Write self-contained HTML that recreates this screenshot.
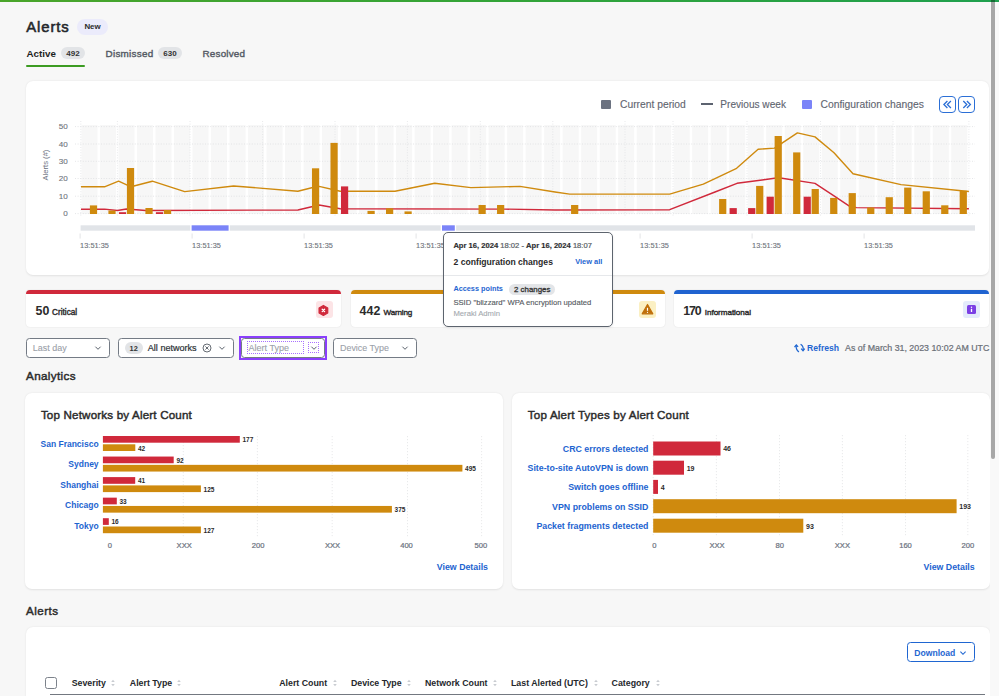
<!DOCTYPE html>
<html><head><meta charset="utf-8"><style>
html,body{margin:0;padding:0;}
body{width:999px;height:696px;overflow:hidden;position:relative;background:#f7f7f7;font-family:"Liberation Sans", sans-serif;}
.t{position:absolute;white-space:nowrap;line-height:1;}
</style></head><body>
<div style="position:absolute;left:0.00px;top:0.00px;width:999.00px;height:2.00px;background:linear-gradient(90deg,#4aa52a,#33a438 50%,#1fa04e)"></div>
<div class="t" style="left:26.20px;top:19.79px;font-size:14.9px;font-weight:400;color:#24272b;-webkit-text-stroke:0.55px #24272b;letter-spacing:0.904px;">Alerts</div>
<div style="position:absolute;left:77.00px;top:19.00px;width:31.00px;height:15.50px;background:#ebebfb;border-radius:8px"></div>
<div class="t" style="left:-7.50px;width:200px;text-align:center;top:22.70px;font-size:7.9px;font-weight:700;color:#2a2a2a;">New</div>
<div class="t" style="left:26.50px;top:49.29px;font-size:9.8px;font-weight:700;color:#1d1f22;">Active</div>
<div style="position:absolute;left:61.00px;top:47.00px;width:24.00px;height:12.00px;background:#e2e4e7;border-radius:6px"></div>
<div class="t" style="left:-27.00px;width:200px;text-align:center;top:49.76px;font-size:8.0px;font-weight:700;color:#333;">492</div>
<div class="t" style="left:105.50px;top:49.34px;font-size:9.9px;font-weight:400;color:#555b65;-webkit-text-stroke:0.4px #555b65;letter-spacing:0.282px;">Dismissed</div>
<div style="position:absolute;left:158.00px;top:47.00px;width:24.00px;height:12.00px;background:#e2e4e7;border-radius:6px"></div>
<div class="t" style="left:70.00px;width:200px;text-align:center;top:49.76px;font-size:8.0px;font-weight:700;color:#333;">630</div>
<div class="t" style="left:202.50px;top:49.34px;font-size:9.9px;font-weight:400;color:#555b65;-webkit-text-stroke:0.4px #555b65;letter-spacing:0.190px;">Resolved</div>
<div style="position:absolute;left:25.60px;top:64.80px;width:59.60px;height:2.00px;background:#3c9b22;border-radius:1px"></div>
<div style="position:absolute;left:26.00px;top:81.00px;width:962.50px;height:194.00px;background:#fff;border-radius:7px;box-shadow:0 0.5px 2px rgba(0,0,0,0.09)"></div>
<div style="position:absolute;left:601.00px;top:100.00px;width:10.00px;height:9.00px;background:#6b7280;border-radius:1px"></div>
<div class="t" style="left:620.00px;top:99.87px;font-size:10.3px;font-weight:400;color:#5f6570;-webkit-text-stroke:0.12px #5f6570;">Current period</div>
<div style="position:absolute;left:701.00px;top:103.30px;width:11.60px;height:1.50px;background:#5c6370"></div>
<div class="t" style="left:720.30px;top:99.96px;font-size:10.1px;font-weight:400;color:#5f6570;-webkit-text-stroke:0.12px #5f6570;">Previous week</div>
<div style="position:absolute;left:802.00px;top:99.70px;width:10.00px;height:9.50px;background:#7b84f8;border-radius:1px"></div>
<div class="t" style="left:820.50px;top:99.85px;font-size:10.34px;font-weight:400;color:#5f6570;-webkit-text-stroke:0.12px #5f6570;">Configuration changes</div>
<div style="position:absolute;left:939.20px;top:95.80px;width:16.60px;height:16.80px;border:1.6px solid #2b6fd6;border-radius:4px;box-sizing:border-box"></div>
<svg style="position:absolute;left:939px;top:95.6px" width="17" height="17"><path d="M8.4 5 L4.9 8.5 L8.4 12 M11.9 5 L8.4 8.5 L11.9 12" fill="none" stroke="#2b6fd6" stroke-width="1.3"/></svg>
<div style="position:absolute;left:958.20px;top:95.80px;width:16.60px;height:16.80px;border:1.6px solid #2b6fd6;border-radius:4px;box-sizing:border-box"></div>
<svg style="position:absolute;left:958px;top:95.6px" width="17" height="17"><path d="M5.3 5 L8.8 8.5 L5.3 12 M8.9 5 L12.4 8.5 L8.9 12" fill="none" stroke="#2b6fd6" stroke-width="1.3"/></svg>
<svg style="position:absolute;left:0;top:0" width="999" height="696"><rect x="81.50" y="125" width="16.01" height="89" fill="#f7f7f7"/><rect x="100.01" y="125" width="16.01" height="89" fill="#f7f7f7"/><rect x="118.51" y="125" width="16.01" height="89" fill="#f7f7f7"/><rect x="137.02" y="125" width="16.01" height="89" fill="#f7f7f7"/><rect x="155.52" y="125" width="16.01" height="89" fill="#f7f7f7"/><rect x="174.03" y="125" width="16.01" height="89" fill="#f7f7f7"/><rect x="192.54" y="125" width="16.01" height="89" fill="#f7f7f7"/><rect x="211.04" y="125" width="16.01" height="89" fill="#f7f7f7"/><rect x="229.55" y="125" width="16.01" height="89" fill="#f7f7f7"/><rect x="248.05" y="125" width="16.01" height="89" fill="#f7f7f7"/><rect x="266.56" y="125" width="16.01" height="89" fill="#f7f7f7"/><rect x="285.07" y="125" width="16.01" height="89" fill="#f7f7f7"/><rect x="303.57" y="125" width="16.01" height="89" fill="#f7f7f7"/><rect x="322.08" y="125" width="16.01" height="89" fill="#f7f7f7"/><rect x="340.58" y="125" width="16.01" height="89" fill="#f7f7f7"/><rect x="359.09" y="125" width="16.01" height="89" fill="#f7f7f7"/><rect x="377.60" y="125" width="16.01" height="89" fill="#f7f7f7"/><rect x="396.10" y="125" width="16.01" height="89" fill="#f7f7f7"/><rect x="414.61" y="125" width="16.01" height="89" fill="#f7f7f7"/><rect x="433.11" y="125" width="16.01" height="89" fill="#f7f7f7"/><rect x="451.62" y="125" width="16.01" height="89" fill="#f7f7f7"/><rect x="470.13" y="125" width="16.01" height="89" fill="#f7f7f7"/><rect x="488.63" y="125" width="16.01" height="89" fill="#f7f7f7"/><rect x="507.14" y="125" width="16.01" height="89" fill="#f7f7f7"/><rect x="525.64" y="125" width="16.01" height="89" fill="#f7f7f7"/><rect x="544.15" y="125" width="16.01" height="89" fill="#f7f7f7"/><rect x="562.66" y="125" width="16.01" height="89" fill="#f7f7f7"/><rect x="581.16" y="125" width="16.01" height="89" fill="#f7f7f7"/><rect x="599.67" y="125" width="16.01" height="89" fill="#f7f7f7"/><rect x="618.17" y="125" width="16.01" height="89" fill="#f7f7f7"/><rect x="636.68" y="125" width="16.01" height="89" fill="#f7f7f7"/><rect x="655.19" y="125" width="16.01" height="89" fill="#f7f7f7"/><rect x="673.69" y="125" width="16.01" height="89" fill="#f7f7f7"/><rect x="692.20" y="125" width="16.01" height="89" fill="#f7f7f7"/><rect x="710.70" y="125" width="16.01" height="89" fill="#f7f7f7"/><rect x="729.21" y="125" width="16.01" height="89" fill="#f7f7f7"/><rect x="747.72" y="125" width="16.01" height="89" fill="#f7f7f7"/><rect x="766.22" y="125" width="16.01" height="89" fill="#f7f7f7"/><rect x="784.73" y="125" width="16.01" height="89" fill="#f7f7f7"/><rect x="803.23" y="125" width="16.01" height="89" fill="#f7f7f7"/><rect x="821.74" y="125" width="16.01" height="89" fill="#f7f7f7"/><rect x="840.25" y="125" width="16.01" height="89" fill="#f7f7f7"/><rect x="858.75" y="125" width="16.01" height="89" fill="#f7f7f7"/><rect x="877.26" y="125" width="16.01" height="89" fill="#f7f7f7"/><rect x="895.76" y="125" width="16.01" height="89" fill="#f7f7f7"/><rect x="914.27" y="125" width="16.01" height="89" fill="#f7f7f7"/><rect x="932.78" y="125" width="16.01" height="89" fill="#f7f7f7"/><rect x="951.28" y="125" width="16.01" height="89" fill="#f7f7f7"/><line x1="75" y1="126.6" x2="975" y2="126.6" stroke="#dcdde0" stroke-width="0.75" stroke-dasharray="1 1.6"/><line x1="75" y1="144.0" x2="975" y2="144.0" stroke="#dcdde0" stroke-width="0.75" stroke-dasharray="1 1.6"/><line x1="75" y1="161.3" x2="975" y2="161.3" stroke="#dcdde0" stroke-width="0.75" stroke-dasharray="1 1.6"/><line x1="75" y1="178.5" x2="975" y2="178.5" stroke="#dcdde0" stroke-width="0.75" stroke-dasharray="1 1.6"/><line x1="75" y1="196.2" x2="975" y2="196.2" stroke="#dcdde0" stroke-width="0.75" stroke-dasharray="1 1.6"/><line x1="75" y1="213.6" x2="975" y2="213.6" stroke="#dcdde0" stroke-width="0.75" stroke-dasharray="1 1.6"/><line x1="80.8" y1="121" x2="80.8" y2="217" stroke="#e0e1e4" stroke-width="0.75" stroke-dasharray="1 1.6"/><line x1="117.4" y1="121" x2="117.4" y2="217" stroke="#e0e1e4" stroke-width="0.75" stroke-dasharray="1 1.6"/><line x1="190" y1="121" x2="190" y2="217" stroke="#e0e1e4" stroke-width="0.75" stroke-dasharray="1 1.6"/><line x1="262.6" y1="121" x2="262.6" y2="217" stroke="#e0e1e4" stroke-width="0.75" stroke-dasharray="1 1.6"/><line x1="335" y1="121" x2="335" y2="217" stroke="#e0e1e4" stroke-width="0.75" stroke-dasharray="1 1.6"/><line x1="407.4" y1="121" x2="407.4" y2="217" stroke="#e0e1e4" stroke-width="0.75" stroke-dasharray="1 1.6"/><line x1="480.3" y1="121" x2="480.3" y2="217" stroke="#e0e1e4" stroke-width="0.75" stroke-dasharray="1 1.6"/><line x1="552.8" y1="121" x2="552.8" y2="217" stroke="#e0e1e4" stroke-width="0.75" stroke-dasharray="1 1.6"/><line x1="625" y1="121" x2="625" y2="217" stroke="#e0e1e4" stroke-width="0.75" stroke-dasharray="1 1.6"/><line x1="673" y1="121" x2="673" y2="217" stroke="#e0e1e4" stroke-width="0.75" stroke-dasharray="1 1.6"/><line x1="747" y1="121" x2="747" y2="217" stroke="#e0e1e4" stroke-width="0.75" stroke-dasharray="1 1.6"/><line x1="820.5" y1="121" x2="820.5" y2="217" stroke="#e0e1e4" stroke-width="0.75" stroke-dasharray="1 1.6"/><line x1="893" y1="121" x2="893" y2="217" stroke="#e0e1e4" stroke-width="0.75" stroke-dasharray="1 1.6"/><line x1="968.9" y1="121" x2="968.9" y2="217" stroke="#e0e1e4" stroke-width="0.75" stroke-dasharray="1 1.6"/><polyline points="81.0,186.8 104.5,186.8 118.6,181.2 131.0,186.8 152.3,181.2 184.7,191.6 233.6,186.0 297.9,191.2 311.7,187.8 319.1,186.4 340.2,191.2 395.0,191.2 434.7,183.3 470.9,187.6 520.0,186.4 555.0,192.0 569.7,194.1 669.7,194.1 703.3,184.1 715.0,178.6 736.6,168.3 758.1,149.3 774.5,148.1 797.4,132.9 815.0,136.9 834.0,152.8 853.0,173.8 901.0,184.6 968.9,191.5" fill="none" stroke="#cf8a0e" stroke-width="1.4" stroke-linejoin="round"/><polyline points="81.0,209.2 104.5,209.1 117.4,210.5 126.5,209.0 145.7,210.5 297.9,210.0 319.1,205.0 340.2,208.8 505.0,209.1 555.0,210.0 669.7,209.7 715.0,192.0 737.0,183.3 774.5,178.3 782.0,178.3 815.0,183.4 834.0,195.9 848.6,205.7 856.4,207.6 968.9,208.7" fill="none" stroke="#d0293b" stroke-width="1.4" stroke-linejoin="round"/><rect x="89.90" y="205.4" width="7.2" height="8.6" fill="#cf8a0e"/><rect x="108.41" y="210.5" width="7.2" height="3.5" fill="#cf8a0e"/><rect x="126.91" y="168.0" width="7.2" height="46.0" fill="#cf8a0e"/><rect x="145.42" y="208.0" width="7.2" height="6.0" fill="#cf8a0e"/><rect x="163.92" y="210.0" width="7.2" height="4.0" fill="#cf8a0e"/><rect x="311.97" y="168.3" width="7.2" height="45.7" fill="#cf8a0e"/><rect x="330.48" y="142.9" width="7.2" height="71.1" fill="#cf8a0e"/><rect x="367.49" y="210.9" width="7.2" height="3.1" fill="#cf8a0e"/><rect x="386.00" y="208.3" width="7.2" height="5.7" fill="#cf8a0e"/><rect x="404.50" y="211.4" width="7.2" height="2.6" fill="#cf8a0e"/><rect x="478.53" y="205.0" width="7.2" height="9.0" fill="#cf8a0e"/><rect x="497.03" y="205.0" width="7.2" height="9.0" fill="#cf8a0e"/><rect x="571.06" y="205.0" width="7.2" height="9.0" fill="#cf8a0e"/><rect x="719.10" y="199.0" width="7.2" height="15.0" fill="#cf8a0e"/><rect x="756.12" y="185.9" width="7.2" height="28.1" fill="#cf8a0e"/><rect x="774.62" y="136.0" width="7.2" height="78.0" fill="#cf8a0e"/><rect x="793.13" y="152.4" width="7.2" height="61.6" fill="#cf8a0e"/><rect x="811.63" y="189.0" width="7.2" height="25.0" fill="#cf8a0e"/><rect x="830.14" y="197.9" width="7.2" height="16.1" fill="#cf8a0e"/><rect x="848.65" y="193.1" width="7.2" height="20.9" fill="#cf8a0e"/><rect x="867.15" y="207.5" width="7.2" height="6.5" fill="#cf8a0e"/><rect x="885.66" y="197.2" width="7.2" height="16.8" fill="#cf8a0e"/><rect x="904.16" y="187.6" width="7.2" height="26.4" fill="#cf8a0e"/><rect x="922.67" y="191.3" width="7.2" height="22.7" fill="#cf8a0e"/><rect x="941.18" y="205.3" width="7.2" height="8.7" fill="#cf8a0e"/><rect x="959.68" y="190.8" width="7.2" height="23.2" fill="#cf8a0e"/><rect x="118.91" y="212.2" width="7.2" height="1.8" fill="#d0293b"/><rect x="155.92" y="212.2" width="7.2" height="1.8" fill="#d0293b"/><rect x="340.98" y="186.4" width="7.2" height="27.6" fill="#d0293b"/><rect x="729.61" y="208.1" width="7.2" height="5.9" fill="#d0293b"/><rect x="748.12" y="208.1" width="7.2" height="5.9" fill="#d0293b"/><rect x="766.62" y="196.7" width="7.2" height="17.3" fill="#d0293b"/><rect x="803.63" y="196.7" width="7.2" height="17.3" fill="#d0293b"/><rect x="80.6" y="225.3" width="894.4" height="5.4" fill="#e1e4e8"/><rect x="190.3" y="224.8" width="39.5" height="6.4" fill="#fff"/><rect x="191.6" y="225.3" width="37" height="5.4" fill="#7b84f8"/><rect x="440.7" y="224.8" width="15.4" height="6.4" fill="#fff"/><rect x="442" y="225.3" width="12.8" height="5.4" fill="#7b84f8"/><line x1="80.1" y1="233.5" x2="80.1" y2="238.5" stroke="#dcdde0" stroke-width="0.8"/><line x1="192.1" y1="233.5" x2="192.1" y2="238.5" stroke="#dcdde0" stroke-width="0.8"/><line x1="304.1" y1="233.5" x2="304.1" y2="238.5" stroke="#dcdde0" stroke-width="0.8"/><line x1="416.1" y1="233.5" x2="416.1" y2="238.5" stroke="#dcdde0" stroke-width="0.8"/><line x1="528.1" y1="233.5" x2="528.1" y2="238.5" stroke="#dcdde0" stroke-width="0.8"/><line x1="640.1" y1="233.5" x2="640.1" y2="238.5" stroke="#dcdde0" stroke-width="0.8"/><line x1="752.1" y1="233.5" x2="752.1" y2="238.5" stroke="#dcdde0" stroke-width="0.8"/><line x1="864.1" y1="233.5" x2="864.1" y2="238.5" stroke="#dcdde0" stroke-width="0.8"/></svg>
<div class="t" style="right:931.30px;top:123.12px;font-size:8.1px;font-weight:400;color:#6e737b;-webkit-text-stroke:0.1px #6e737b;">50</div>
<div class="t" style="right:931.30px;top:140.52px;font-size:8.1px;font-weight:400;color:#6e737b;-webkit-text-stroke:0.1px #6e737b;">40</div>
<div class="t" style="right:931.30px;top:157.82px;font-size:8.1px;font-weight:400;color:#6e737b;-webkit-text-stroke:0.1px #6e737b;">30</div>
<div class="t" style="right:931.30px;top:175.02px;font-size:8.1px;font-weight:400;color:#6e737b;-webkit-text-stroke:0.1px #6e737b;">20</div>
<div class="t" style="right:931.30px;top:192.72px;font-size:8.1px;font-weight:400;color:#6e737b;-webkit-text-stroke:0.1px #6e737b;">10</div>
<div class="t" style="right:931.30px;top:210.12px;font-size:8.1px;font-weight:400;color:#6e737b;-webkit-text-stroke:0.1px #6e737b;">0</div>
<div class="t" style="left:15.5px;top:161.3px;width:60px;text-align:center;font-size:7.6px;line-height:8px;color:#6b7280;transform:rotate(-90deg)">Alerts (#)</div>
<div class="t" style="left:80.10px;top:242.13px;font-size:7.37px;font-weight:400;color:#6e737b;-webkit-text-stroke:0.12px #6e737b;letter-spacing:0.021px;">13:51:35</div>
<div class="t" style="left:192.10px;top:242.13px;font-size:7.37px;font-weight:400;color:#6e737b;-webkit-text-stroke:0.12px #6e737b;letter-spacing:0.021px;">13:51:35</div>
<div class="t" style="left:304.10px;top:242.13px;font-size:7.37px;font-weight:400;color:#6e737b;-webkit-text-stroke:0.12px #6e737b;letter-spacing:0.021px;">13:51:35</div>
<div class="t" style="left:416.10px;top:242.13px;font-size:7.37px;font-weight:400;color:#6e737b;-webkit-text-stroke:0.12px #6e737b;letter-spacing:0.021px;">13:51:35</div>
<div class="t" style="left:528.10px;top:242.13px;font-size:7.37px;font-weight:400;color:#6e737b;-webkit-text-stroke:0.12px #6e737b;letter-spacing:0.021px;">13:51:35</div>
<div class="t" style="left:640.10px;top:242.13px;font-size:7.37px;font-weight:400;color:#6e737b;-webkit-text-stroke:0.12px #6e737b;letter-spacing:0.021px;">13:51:35</div>
<div class="t" style="left:752.10px;top:242.13px;font-size:7.37px;font-weight:400;color:#6e737b;-webkit-text-stroke:0.12px #6e737b;letter-spacing:0.021px;">13:51:35</div>
<div class="t" style="left:864.10px;top:242.13px;font-size:7.37px;font-weight:400;color:#6e737b;-webkit-text-stroke:0.12px #6e737b;letter-spacing:0.021px;">13:51:35</div>
<div style="position:absolute;left:26.40px;top:290.40px;width:314.50px;height:36.90px;background:#fff;border-radius:4px;box-shadow:0 0 1.5px rgba(0,0,0,0.12);overflow:hidden"></div>
<div style="position:absolute;left:26.40px;top:290.40px;width:314.50px;height:3.60px;background:#d0293b;border-radius:4px 4px 0 0"></div>
<div class="t" style="left:35.50px;top:304.77px;font-size:12.4px;font-weight:700;color:#2b2b2b;letter-spacing:0.003px;">50</div>
<div style="position:absolute;left:315.50px;top:301.30px;width:17.00px;height:16.80px;background:#fce4e6;border-radius:3px"></div>
<div style="position:absolute;left:350.50px;top:290.40px;width:314.50px;height:36.90px;background:#fff;border-radius:4px;box-shadow:0 0 1.5px rgba(0,0,0,0.12);overflow:hidden"></div>
<div style="position:absolute;left:350.50px;top:290.40px;width:314.50px;height:3.60px;background:#cf8a0e;border-radius:4px 4px 0 0"></div>
<div class="t" style="left:359.60px;top:304.77px;font-size:12.4px;font-weight:700;color:#2b2b2b;letter-spacing:0.056px;">442</div>
<div style="position:absolute;left:639.30px;top:301.30px;width:17.00px;height:16.80px;background:#fbf0c3;border-radius:3px"></div>
<div style="position:absolute;left:674.10px;top:290.40px;width:314.90px;height:36.90px;background:#fff;border-radius:4px;box-shadow:0 0 1.5px rgba(0,0,0,0.12);overflow:hidden"></div>
<div style="position:absolute;left:674.10px;top:290.40px;width:314.90px;height:3.60px;background:#1f63d0;border-radius:4px 4px 0 0"></div>
<div class="t" style="left:683.20px;top:304.77px;font-size:12.4px;font-weight:700;color:#2b2b2b;letter-spacing:-1.144px;">170</div>
<div style="position:absolute;left:963.30px;top:301.30px;width:17.00px;height:16.80px;background:#e4ebfb;border-radius:3px"></div>
<div class="t" style="left:52.00px;top:308.67px;font-size:8.2px;font-weight:400;color:#2b2b2b;-webkit-text-stroke:0.4px #2b2b2b;letter-spacing:0.024px;">Critical</div>
<div class="t" style="left:383.50px;top:308.72px;font-size:8.1px;font-weight:400;color:#2b2b2b;-webkit-text-stroke:0.4px #2b2b2b;letter-spacing:-0.174px;">Warning</div>
<div class="t" style="left:704.80px;top:308.72px;font-size:8.1px;font-weight:400;color:#2b2b2b;-webkit-text-stroke:0.4px #2b2b2b;letter-spacing:-0.050px;">Informational</div>
<svg style="position:absolute;left:315.1px;top:301.7px" width="17" height="17"><polygon points="8.40,3.40 12.73,5.90 12.73,10.90 8.40,13.40 4.07,10.90 4.07,5.90" fill="#d0293b" stroke="#d0293b" stroke-width="1.2" stroke-linejoin="round"/><path d="M7.2 7.2 L9.6 9.6 M9.6 7.2 L7.2 9.6" stroke="#fff" stroke-width="1.3" stroke-linecap="round"/></svg>
<svg style="position:absolute;left:639.3px;top:301.3px" width="17" height="17"><polygon points="8.5,3.5 13.8,12.8 3.2,12.8" fill="#c0700a" stroke="#c0700a" stroke-width="1.2" stroke-linejoin="round"/><path d="M8.5 6.8 V9.8" stroke="#fff" stroke-width="1.2"/><circle cx="8.5" cy="11.3" r="0.65" fill="#fff"/></svg>
<svg style="position:absolute;left:963.3px;top:301.3px" width="17" height="17"><rect x="4" y="4" width="9" height="9" rx="1.5" fill="#7b3fe4"/><path d="M8.5 7.8 V11" stroke="#fff" stroke-width="1.3"/><circle cx="8.5" cy="6.3" r="0.7" fill="#fff"/></svg>
<div style="position:absolute;left:442.60px;top:232.20px;width:170.60px;height:95.10px;background:#fff;border:1.5px solid #5d646e;border-radius:5px;box-sizing:border-box;box-shadow:0 1px 3px rgba(0,0,0,0.08)"></div>
<div style="position:absolute;left:444.00px;top:275.00px;width:168.00px;height:0.80px;background:#e6e8eb"></div>
<div class="t" style="left:453.40px;top:242.03px;font-size:7.6px;font-weight:400;color:#5a5f66;-webkit-text-stroke:0.22px #5a5f66;"><b style="color:#222">Apr 16, 2024</b> <span>18:02</span> - <b style="color:#222">Apr 16, 2024</b> 18:07</div>
<div class="t" style="left:453.60px;top:258.30px;font-size:8.6px;font-weight:700;color:#2a2a2a;">2 configuration changes</div>
<div class="t" style="left:575.20px;top:258.10px;font-size:7.45px;font-weight:700;color:#1f66d1;">View all</div>
<div class="t" style="left:453.40px;top:284.66px;font-size:7.3px;font-weight:700;color:#1f66d1;">Access points</div>
<div style="position:absolute;left:509.20px;top:283.60px;width:46.00px;height:11.40px;background:#e3e5e8;border-radius:6px"></div>
<div class="t" style="left:432.20px;width:200px;text-align:center;top:285.50px;font-size:7.9px;font-weight:400;color:#333;-webkit-text-stroke:0.3px #333;">2 changes</div>
<div class="t" style="left:453.40px;top:299.30px;font-size:7.68px;font-weight:400;color:#555a61;-webkit-text-stroke:0.12px #555a61;">SSID "blizzard" WPA encryption updated</div>
<div class="t" style="left:453.40px;top:310.49px;font-size:7.69px;font-weight:400;color:#a3a8ae;-webkit-text-stroke:0.1px #a3a8ae;">Meraki Admin</div>
<div style="position:absolute;left:25.50px;top:338.00px;width:84.40px;height:20.00px;border:1.5px solid #747b85;border-radius:3.5px;box-sizing:border-box;background:#fff"></div>
<div class="t" style="left:32.80px;top:344.14px;font-size:8.97px;font-weight:400;color:#9ba1a9;-webkit-text-stroke:0.1px #9ba1a9;">Last day</div>
<svg style="position:absolute;left:93.2px;top:343px" width="10" height="10"><path d="M2.4 3.7 L5 6.3 L7.6 3.7" fill="none" stroke="#5a616b" stroke-width="1.0"/></svg>
<div style="position:absolute;left:117.60px;top:338.00px;width:116.10px;height:20.00px;border:1.5px solid #747b85;border-radius:3.5px;box-sizing:border-box;background:#fff"></div>
<div style="position:absolute;left:124.60px;top:342.30px;width:18.10px;height:11.40px;background:#e2e4e7;border-radius:6px"></div>
<div class="t" style="left:33.65px;width:200px;text-align:center;top:344.82px;font-size:7.4px;font-weight:700;color:#333;">12</div>
<div class="t" style="left:147.80px;top:344.10px;font-size:9.07px;font-weight:400;color:#2f3338;-webkit-text-stroke:0.22px #2f3338;">All networks</div>
<svg style="position:absolute;left:201.8px;top:343px" width="10" height="10"><circle cx="5" cy="5" r="4" fill="none" stroke="#555b63" stroke-width="0.9"/><path d="M3.4 3.4 L6.6 6.6 M6.6 3.4 L3.4 6.6" stroke="#555b63" stroke-width="0.9"/></svg>
<svg style="position:absolute;left:216.5px;top:343px" width="10" height="10"><path d="M2.4 3.7 L5 6.3 L7.6 3.7" fill="none" stroke="#5a616b" stroke-width="1.0"/></svg>
<div style="position:absolute;left:239.00px;top:336.00px;width:88.40px;height:24.00px;border:2px solid #8a3ffc;box-sizing:border-box"></div>
<div style="position:absolute;left:241.00px;top:338.00px;width:84.40px;height:20.00px;border:1.5px solid #747b85;border-radius:3.5px;box-sizing:border-box;background:#fff"></div>
<div style="position:absolute;left:247.00px;top:341.40px;width:57.00px;height:13.00px;border:1px dotted #a970ff;box-sizing:border-box"></div>
<div style="position:absolute;left:308.00px;top:342.00px;width:11.00px;height:11.00px;border:1px dotted #a970ff;box-sizing:border-box"></div>
<div class="t" style="left:248.60px;top:344.13px;font-size:9.01px;font-weight:400;color:#9ba1a9;-webkit-text-stroke:0.1px #9ba1a9;">Alert Type</div>
<svg style="position:absolute;left:308.5px;top:342.5px" width="10" height="10"><path d="M2.4 3.7 L5 6.3 L7.6 3.7" fill="none" stroke="#5a616b" stroke-width="1.0"/></svg>
<div style="position:absolute;left:333.00px;top:338.00px;width:84.00px;height:20.00px;border:1.5px solid #747b85;border-radius:3.5px;box-sizing:border-box;background:#fff"></div>
<div class="t" style="left:340.00px;top:344.16px;font-size:8.93px;font-weight:400;color:#9ba1a9;-webkit-text-stroke:0.1px #9ba1a9;">Device Type</div>
<svg style="position:absolute;left:400px;top:343px" width="10" height="10"><path d="M2.4 3.7 L5 6.3 L7.6 3.7" fill="none" stroke="#5a616b" stroke-width="1.0"/></svg>
<svg style="position:absolute;left:790px;top:340px" width="16" height="16"><path d="M8.9 11.9 Q5.6 9.6 6.2 5.4" fill="none" stroke="#1f66d1" stroke-width="1.3"/><path d="M4.5 7.1 L6.3 5 L8.1 6.9" fill="none" stroke="#1f66d1" stroke-width="1.3"/><path d="M10.6 4.2 Q13.9 6.4 13.1 10.4" fill="none" stroke="#1f66d1" stroke-width="1.3"/><path d="M11.2 8.7 L13 10.8 L14.7 8.6" fill="none" stroke="#1f66d1" stroke-width="1.3"/></svg>
<div class="t" style="left:807.00px;top:344.48px;font-size:8.65px;font-weight:700;color:#1f66d1;">Refresh</div>
<div class="t" style="left:845.10px;top:344.40px;font-size:8.83px;font-weight:400;color:#6b7078;-webkit-text-stroke:0.22px #6b7078;">As of March 31, 2023 10:02 AM UTC</div>
<div class="t" style="left:26.00px;top:370.47px;font-size:11.7px;font-weight:400;color:#2b2b2b;-webkit-text-stroke:0.45px #2b2b2b;letter-spacing:0.340px;">Analytics</div>
<div style="position:absolute;left:25.30px;top:392.70px;width:478.00px;height:195.90px;background:#fff;border-radius:7px;box-shadow:0 0.5px 2px rgba(0,0,0,0.09)"></div>
<div style="position:absolute;left:512.20px;top:392.70px;width:477.40px;height:195.90px;background:#fff;border-radius:7px;box-shadow:0 0.5px 2px rgba(0,0,0,0.09)"></div>
<div class="t" style="left:40.90px;top:408.91px;font-size:11.6px;font-weight:400;color:#2b2b2b;-webkit-text-stroke:0.45px #2b2b2b;letter-spacing:0.178px;">Top Networks by Alert Count</div>
<div class="t" style="left:527.80px;top:408.91px;font-size:11.6px;font-weight:400;color:#2b2b2b;-webkit-text-stroke:0.45px #2b2b2b;letter-spacing:0.203px;">Top Alert Types by Alert Count</div>
<svg style="position:absolute;left:0;top:0" width="999" height="696"><line x1="183.3" y1="436" x2="183.3" y2="537" stroke="#e3e4e6" stroke-width="0.8" stroke-dasharray="1.2 1.8"/><line x1="257.4" y1="436" x2="257.4" y2="537" stroke="#e3e4e6" stroke-width="0.8" stroke-dasharray="1.2 1.8"/><line x1="332.2" y1="436" x2="332.2" y2="537" stroke="#e3e4e6" stroke-width="0.8" stroke-dasharray="1.2 1.8"/><line x1="407.5" y1="436" x2="407.5" y2="537" stroke="#e3e4e6" stroke-width="0.8" stroke-dasharray="1.2 1.8"/><line x1="481.6" y1="436" x2="481.6" y2="537" stroke="#e3e4e6" stroke-width="0.8" stroke-dasharray="1.2 1.8"/><line x1="653.2" y1="435" x2="653.2" y2="537" stroke="#e3e4e6" stroke-width="0.8" stroke-dasharray="1.2 1.8"/><line x1="716.4" y1="435" x2="716.4" y2="537" stroke="#e3e4e6" stroke-width="0.8" stroke-dasharray="1.2 1.8"/><line x1="779.5" y1="435" x2="779.5" y2="537" stroke="#e3e4e6" stroke-width="0.8" stroke-dasharray="1.2 1.8"/><line x1="842.4" y1="435" x2="842.4" y2="537" stroke="#e3e4e6" stroke-width="0.8" stroke-dasharray="1.2 1.8"/><line x1="905.5" y1="435" x2="905.5" y2="537" stroke="#e3e4e6" stroke-width="0.8" stroke-dasharray="1.2 1.8"/><line x1="967.8" y1="435" x2="967.8" y2="537" stroke="#e3e4e6" stroke-width="0.8" stroke-dasharray="1.2 1.8"/><rect x="102.9" y="436.00" width="136.9" height="6.7" fill="#d0293b"/><rect x="102.9" y="444.30" width="32.4" height="6.7" fill="#cf8a0e"/><rect x="102.9" y="456.55" width="70.8" height="6.7" fill="#d0293b"/><rect x="102.9" y="464.85" width="359.5" height="6.7" fill="#cf8a0e"/><rect x="102.9" y="477.10" width="32.3" height="6.7" fill="#d0293b"/><rect x="102.9" y="485.40" width="98.0" height="6.7" fill="#cf8a0e"/><rect x="102.9" y="497.65" width="13.9" height="6.7" fill="#d0293b"/><rect x="102.9" y="505.95" width="289.0" height="6.7" fill="#cf8a0e"/><rect x="102.9" y="518.20" width="5.9" height="6.7" fill="#d0293b"/><rect x="102.9" y="526.50" width="98.0" height="6.7" fill="#cf8a0e"/><rect x="653.2" y="441.5" width="67.3" height="14" fill="#d0293b"/><rect x="653.2" y="460.7" width="30.8" height="14" fill="#d0293b"/><rect x="653.2" y="479.9" width="4.8" height="14" fill="#d0293b"/><rect x="653.2" y="499.2" width="303.4" height="14" fill="#cf8a0e"/><rect x="653.2" y="518.7" width="150.1" height="14" fill="#cf8a0e"/></svg>
<div class="t" style="right:900.40px;top:439.74px;font-size:8.51px;font-weight:700;color:#1d64d0;">San Francisco</div>
<div class="t" style="left:242.50px;top:437.20px;font-size:6.5px;font-weight:700;color:#2b2b2b;">177</div>
<div class="t" style="left:138.00px;top:445.50px;font-size:6.5px;font-weight:700;color:#2b2b2b;">42</div>
<div class="t" style="right:900.40px;top:460.29px;font-size:8.51px;font-weight:700;color:#1d64d0;">Sydney</div>
<div class="t" style="left:176.40px;top:457.75px;font-size:6.5px;font-weight:700;color:#2b2b2b;">92</div>
<div class="t" style="left:465.10px;top:466.06px;font-size:6.5px;font-weight:700;color:#2b2b2b;">495</div>
<div class="t" style="right:900.40px;top:480.84px;font-size:8.51px;font-weight:700;color:#1d64d0;">Shanghai</div>
<div class="t" style="left:137.90px;top:478.31px;font-size:6.5px;font-weight:700;color:#2b2b2b;">41</div>
<div class="t" style="left:203.60px;top:486.61px;font-size:6.5px;font-weight:700;color:#2b2b2b;">125</div>
<div class="t" style="right:900.40px;top:501.39px;font-size:8.51px;font-weight:700;color:#1d64d0;">Chicago</div>
<div class="t" style="left:119.50px;top:498.85px;font-size:6.5px;font-weight:700;color:#2b2b2b;">33</div>
<div class="t" style="left:394.60px;top:507.16px;font-size:6.5px;font-weight:700;color:#2b2b2b;">375</div>
<div class="t" style="right:900.40px;top:521.94px;font-size:8.51px;font-weight:700;color:#1d64d0;">Tokyo</div>
<div class="t" style="left:111.50px;top:519.41px;font-size:6.5px;font-weight:700;color:#2b2b2b;">16</div>
<div class="t" style="left:203.60px;top:527.71px;font-size:6.5px;font-weight:700;color:#2b2b2b;">127</div>
<div class="t" style="right:350.60px;top:444.92px;font-size:8.8px;font-weight:700;color:#1d64d0;">CRC errors detected</div>
<div class="t" style="left:723.20px;top:445.49px;font-size:7.0px;font-weight:700;color:#2b2b2b;">46</div>
<div class="t" style="right:350.60px;top:464.12px;font-size:8.8px;font-weight:700;color:#1d64d0;">Site-to-site AutoVPN is down</div>
<div class="t" style="left:686.70px;top:464.69px;font-size:7.0px;font-weight:700;color:#2b2b2b;">19</div>
<div class="t" style="right:350.60px;top:483.32px;font-size:8.8px;font-weight:700;color:#1d64d0;">Switch goes offline</div>
<div class="t" style="left:660.70px;top:483.89px;font-size:7.0px;font-weight:700;color:#2b2b2b;">4</div>
<div class="t" style="right:350.60px;top:502.62px;font-size:8.8px;font-weight:700;color:#1d64d0;">VPN problems on SSID</div>
<div class="t" style="left:959.30px;top:503.19px;font-size:7.0px;font-weight:700;color:#2b2b2b;">193</div>
<div class="t" style="right:350.60px;top:522.12px;font-size:8.8px;font-weight:700;color:#1d64d0;">Packet fragments detected</div>
<div class="t" style="left:806.00px;top:522.69px;font-size:7.0px;font-weight:700;color:#2b2b2b;">93</div>
<div class="t" style="left:9.80px;width:200px;text-align:center;top:541.83px;font-size:7.6px;font-weight:400;color:#6b7280;-webkit-text-stroke:0.22px #6b7280;">0</div>
<div class="t" style="left:84.20px;width:200px;text-align:center;top:541.83px;font-size:7.6px;font-weight:400;color:#6b7280;-webkit-text-stroke:0.22px #6b7280;">XXX</div>
<div class="t" style="left:158.10px;width:200px;text-align:center;top:541.83px;font-size:7.6px;font-weight:400;color:#6b7280;-webkit-text-stroke:0.22px #6b7280;">200</div>
<div class="t" style="left:232.50px;width:200px;text-align:center;top:541.83px;font-size:7.6px;font-weight:400;color:#6b7280;-webkit-text-stroke:0.22px #6b7280;">XXX</div>
<div class="t" style="left:306.50px;width:200px;text-align:center;top:541.83px;font-size:7.6px;font-weight:400;color:#6b7280;-webkit-text-stroke:0.22px #6b7280;">400</div>
<div class="t" style="left:380.90px;width:200px;text-align:center;top:541.83px;font-size:7.6px;font-weight:400;color:#6b7280;-webkit-text-stroke:0.22px #6b7280;">500</div>
<div class="t" style="left:554.30px;width:200px;text-align:center;top:541.53px;font-size:7.6px;font-weight:400;color:#6b7280;-webkit-text-stroke:0.22px #6b7280;">0</div>
<div class="t" style="left:617.00px;width:200px;text-align:center;top:541.53px;font-size:7.6px;font-weight:400;color:#6b7280;-webkit-text-stroke:0.22px #6b7280;">XXX</div>
<div class="t" style="left:679.70px;width:200px;text-align:center;top:541.53px;font-size:7.6px;font-weight:400;color:#6b7280;-webkit-text-stroke:0.22px #6b7280;">80</div>
<div class="t" style="left:742.40px;width:200px;text-align:center;top:541.53px;font-size:7.6px;font-weight:400;color:#6b7280;-webkit-text-stroke:0.22px #6b7280;">XXX</div>
<div class="t" style="left:805.50px;width:200px;text-align:center;top:541.53px;font-size:7.6px;font-weight:400;color:#6b7280;-webkit-text-stroke:0.22px #6b7280;">160</div>
<div class="t" style="left:867.80px;width:200px;text-align:center;top:541.53px;font-size:7.6px;font-weight:400;color:#6b7280;-webkit-text-stroke:0.22px #6b7280;">200</div>
<div class="t" style="left:436.80px;top:563.12px;font-size:8.8px;font-weight:700;color:#1d64d0;">View Details</div>
<div class="t" style="left:923.50px;top:562.92px;font-size:8.8px;font-weight:700;color:#1d64d0;">View Details</div>
<div class="t" style="left:26.00px;top:605.01px;font-size:11.6px;font-weight:400;color:#2b2b2b;-webkit-text-stroke:0.45px #2b2b2b;letter-spacing:0.472px;">Alerts</div>
<div style="position:absolute;left:26.00px;top:627.30px;width:963.70px;height:92.70px;background:#fff;border-radius:7px;box-shadow:0 0.5px 2px rgba(0,0,0,0.09)"></div>
<div style="position:absolute;left:906.90px;top:642.30px;width:68.10px;height:20.20px;border:1.5px solid #1f66d1;border-radius:3.5px;box-sizing:border-box"></div>
<div class="t" style="left:914.30px;top:648.60px;font-size:8.6px;font-weight:700;color:#1f66d1;">Download</div>
<svg style="position:absolute;left:958.4px;top:647.5px" width="10" height="10"><path d="M2.4 3.7 L5 6.3 L7.6 3.7" fill="none" stroke="#1f66d1" stroke-width="1.1"/></svg>
<div style="position:absolute;left:45.20px;top:677.40px;width:11.60px;height:11.30px;border:1.4px solid #7c828b;border-radius:2.5px;box-sizing:border-box"></div>
<div class="t" style="left:71.70px;top:679.42px;font-size:8.8px;font-weight:700;color:#25282c;">Severity</div>
<svg style="position:absolute;left:110.2px;top:678px" width="6" height="10"><path d="M1.2 4 L3 1.8 L4.8 4 Z M1.2 6 L3 8.2 L4.8 6 Z" fill="#c9ccd1"/></svg>
<div class="t" style="left:129.80px;top:679.42px;font-size:8.8px;font-weight:700;color:#25282c;">Alert Type</div>
<svg style="position:absolute;left:176.3px;top:678px" width="6" height="10"><path d="M1.2 4 L3 1.8 L4.8 4 Z M1.2 6 L3 8.2 L4.8 6 Z" fill="#c9ccd1"/></svg>
<div class="t" style="left:279.20px;top:679.42px;font-size:8.8px;font-weight:700;color:#25282c;">Alert Count</div>
<svg style="position:absolute;left:331.5px;top:678px" width="6" height="10"><path d="M1.2 4 L3 1.8 L4.8 4 Z M1.2 6 L3 8.2 L4.8 6 Z" fill="#c9ccd1"/></svg>
<div class="t" style="left:350.90px;top:679.42px;font-size:8.8px;font-weight:700;color:#25282c;">Device Type</div>
<svg style="position:absolute;left:405.5px;top:678px" width="6" height="10"><path d="M1.2 4 L3 1.8 L4.8 4 Z M1.2 6 L3 8.2 L4.8 6 Z" fill="#c9ccd1"/></svg>
<div class="t" style="left:425.00px;top:679.42px;font-size:8.8px;font-weight:700;color:#25282c;">Network Count</div>
<svg style="position:absolute;left:492px;top:678px" width="6" height="10"><path d="M1.2 4 L3 1.8 L4.8 4 Z M1.2 6 L3 8.2 L4.8 6 Z" fill="#c9ccd1"/></svg>
<div class="t" style="left:511.00px;top:679.42px;font-size:8.8px;font-weight:700;color:#25282c;">Last Alerted (UTC)</div>
<svg style="position:absolute;left:592.5px;top:678px" width="6" height="10"><path d="M1.2 4 L3 1.8 L4.8 4 Z M1.2 6 L3 8.2 L4.8 6 Z" fill="#c9ccd1"/></svg>
<div class="t" style="left:611.60px;top:679.42px;font-size:8.8px;font-weight:700;color:#25282c;">Category</div>
<svg style="position:absolute;left:654.6px;top:678px" width="6" height="10"><path d="M1.2 4 L3 1.8 L4.8 4 Z M1.2 6 L3 8.2 L4.8 6 Z" fill="#c9ccd1"/></svg>
<div style="position:absolute;left:50.00px;top:693.80px;width:935.00px;height:1.30px;background:#737880"></div>
<div style="position:absolute;left:990.00px;top:2.00px;width:9.00px;height:694.00px;background:#f9f9f9"></div>
<div style="position:absolute;left:990.90px;top:0.00px;width:4.00px;height:458.60px;background:rgba(0,0,0,0.33);border-radius:0 0 2px 2px"></div>
</body></html>
